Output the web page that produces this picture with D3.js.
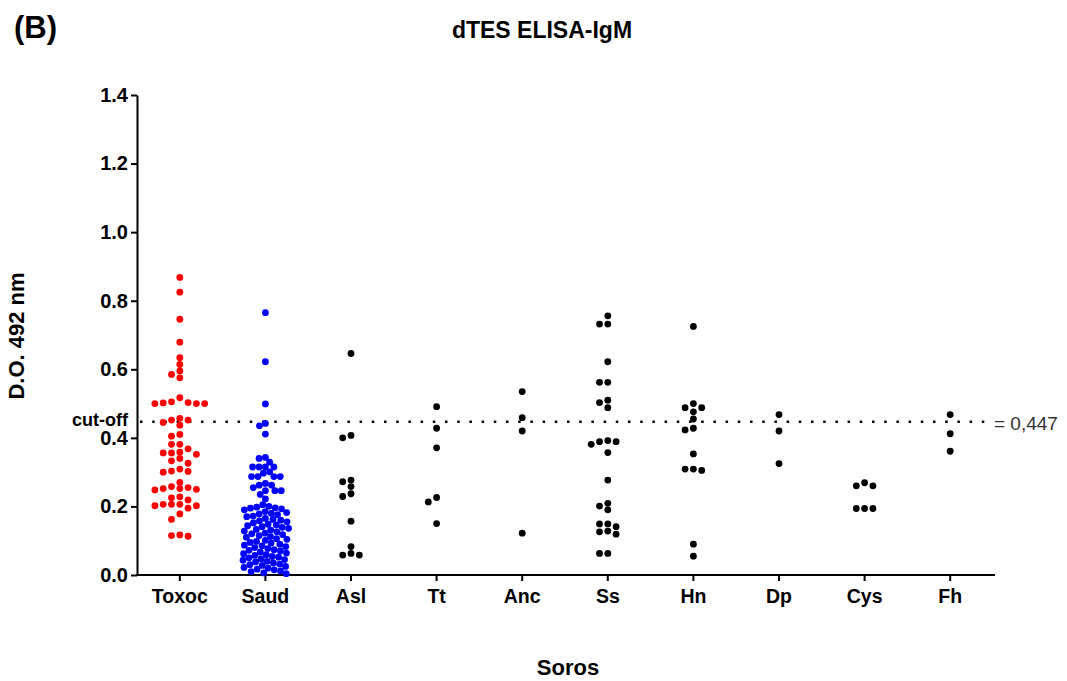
<!DOCTYPE html>
<html>
<head>
<meta charset="utf-8">
<script src="https://cdn.jsdelivr.net/npm/d3@7"></script>
<style>
  body { margin: 0; background: #fff; }
  svg { font-family: Arial, "Liberation Sans", sans-serif; }
</style>
</head>
<body>
<svg width="1067" height="681"></svg>
<script>
// groups (x axis) and colours
var groups = ['Toxoc', 'Saud', 'Asl', 'Tt', 'Anc', 'Ss', 'Hn', 'Dp', 'Cys', 'Fh'];
var colors = ['#ff0000', '#0000ff', '#000', '#000', '#000', '#000', '#000', '#000', '#000', '#000'];
var yTicks = [0, 0.2, 0.4, 0.6, 0.8, 1.0, 1.2, 1.4];
var cutOff = 0.447;

// values (D.O. 492 nm)
var toxoc = [0.868, 0.825, 0.746, 0.679, 0.634, 0.614, 0.595, 0.585, 0.575, 0.517,
  0.505, 0.502, 0.500, 0.500, 0.500, 0.503,
  0.457, 0.452, 0.452, 0.445, 0.437,
  0.410, 0.405, 0.381, 0.381, 0.368,
  0.358, 0.356, 0.356, 0.352, 0.340, 0.333, 0.326, 0.309, 0.302, 0.300, 0.303,
  0.270, 0.255, 0.252, 0.248, 0.250, 0.252, 0.258,
  0.228, 0.225, 0.219, 0.206, 0.206, 0.202, 0.202, 0.206, 0.195, 0.178, 0.162, 0.117, 0.113, 0.115];
var saud = [0.765, 0.622, 0.499, 0.442, 0.435, 0.411,
  0.343, 0.340, 0.329, 0.315, 0.315, 0.315, 0.315, 0.301, 0.297, 0.287, 0.287, 0.287, 0.287,
  0.267, 0.262, 0.262, 0.255, 0.246, 0.246, 0.246, 0.235, 0.222,
  0.205, 0.200, 0.198, 0.196, 0.195, 0.193, 0.190,
  0.185, 0.182, 0.180, 0.178, 0.176, 0.172, 0.170,
  0.165, 0.162, 0.160, 0.158, 0.155, 0.152,
  0.148, 0.146, 0.144, 0.141, 0.139, 0.136,
  0.133, 0.131, 0.128, 0.126, 0.122, 0.120, 0.118,
  0.115, 0.112, 0.110, 0.106, 0.104, 0.101,
  0.098, 0.095, 0.093, 0.090, 0.087, 0.085, 0.083,
  0.080, 0.077, 0.074, 0.072, 0.070, 0.067,
  0.064, 0.062, 0.059, 0.057, 0.054, 0.052, 0.050,
  0.047, 0.045, 0.043, 0.040, 0.038, 0.035,
  0.032, 0.030, 0.028, 0.025, 0.022, 0.020,
  0.017, 0.015, 0.012, 0.010, 0.006, 0.004];
var asl = [0.646, 0.407, 0.400, 0.277, 0.272, 0.258, 0.237, 0.229, 0.157, 0.083, 0.063, 0.058, 0.058];
var tt = [0.491, 0.428, 0.371, 0.226, 0.213, 0.150];
var anc = [0.535, 0.459, 0.420, 0.122];
var ss = [0.756, 0.732, 0.732, 0.622, 0.562, 0.562, 0.510, 0.503, 0.488,
  0.392, 0.381, 0.389, 0.389, 0.357, 0.277, 0.209, 0.201, 0.190,
  0.149, 0.149, 0.141, 0.128, 0.126, 0.119, 0.063, 0.063];
var hn = [0.725, 0.500, 0.488, 0.488, 0.476, 0.455, 0.428, 0.423, 0.353, 0.309, 0.309, 0.305, 0.090, 0.055];
var dp = [0.468, 0.420, 0.325];
var cys = [0.269, 0.260, 0.260, 0.194, 0.194, 0.194];
var fh = [0.468, 0.412, 0.361];

var series = [toxoc, saud, asl, tt, anc, ss, hn, dp, cys, fh];

var svg = d3.select('svg');

var y = d3.scaleLinear().domain([0, 1.4]).range([575, 95]);
var x = d3.scaleBand().domain(groups).range([137, 993]);

var step = 8.3, r = 3.4;

// rows: each point goes into the nearest free slot beside the centre
function slots(vals, sep) {
  var placed = [];
  vals.slice().sort((a, b) => b - a).forEach(function(v) {
    var py = y(v);
    for (var k = 0; k < 40; k++) {
      var slot = k === 0 ? 0 : (k % 2 ? -Math.ceil(k / 2) : k / 2);
      var hit = placed.some(p => p.slot === slot && Math.abs(p.py - py) < sep);
      if (!hit) { placed.push({v: v, py: py, dx: slot * step, slot: slot}); break; }
    }
  });
  return placed;
}

// free beeswarm for the dense group
function swarm(vals, dist) {
  var placed = [];
  vals.slice().sort((a, b) => b - a).forEach(function(v) {
    var py = y(v);
    var near = placed.filter(p => Math.abs(p.py - py) < dist);
    var cands = [0];
    near.forEach(function(p) {
      var w = Math.sqrt(dist * dist - (p.py - py) * (p.py - py));
      cands.push(p.dx - w, p.dx + w);
    });
    cands.sort((a, b) => Math.abs(a) - Math.abs(b));
    var dx = cands.find(c => near.every(p => (p.dx - c) * (p.dx - c) + (p.py - py) * (p.py - py) >= dist * dist - 0.01));
    placed.push({v: v, py: py, dx: dx});
  });
  return placed;
}

//x axis
var xAxis = svg.append('g')
  .attr('transform', 'translate(0,575)')
  .call(d3.axisBottom(x).tickSize(6).tickSizeOuter(0));
xAxis.select('.domain').attr('stroke-width', 2).attr('d', 'M136,0H995');
xAxis.selectAll('.tick line').attr('stroke-width', 2);
xAxis.selectAll('text')
  .attr('y', 14)
  .attr('dy', '0.71em')
  .style('font-size', '19.5px')
  .style('font-weight', 'bold')
  .style('font-family', 'Arial, "Liberation Sans", sans-serif');

//y axis
var yAxis = svg.append('g')
  .attr('transform', 'translate(137,0)')
  .call(d3.axisLeft(y).tickValues(yTicks).tickFormat(d3.format('.1f')).tickSize(6).tickSizeOuter(0));
yAxis.select('.domain').attr('stroke-width', 2);
yAxis.selectAll('.tick line').attr('stroke-width', 2);
yAxis.selectAll('text')
  .style('font-size', '20px')
  .style('font-weight', 'bold')
  .style('font-family', 'Arial, "Liberation Sans", sans-serif');

// cut-off line
svg.append('line')
  .attr('x1', 140).attr('x2', 986)
  .attr('y1', y(cutOff)).attr('y2', y(cutOff))
  .attr('stroke', '#000')
  .attr('stroke-width', 2.5)
  .attr('stroke-dasharray', '2.5,9.7');

svg.append('text')
  .attr('x', 128).attr('y', y(cutOff) + 4)
  .attr('text-anchor', 'end')
  .style('font-size', '18px').style('font-weight', 'bold')
  .text('cut-off');

svg.append('text')
  .attr('x', 994).attr('y', y(cutOff) + 8)
  .style('font-size', '19px').attr('fill', '#333')
  .text('= 0,447');

// dots
series.forEach(function(vals, i) {
  var cx = x(groups[i]) + x.bandwidth() / 2;
  svg.append('g')
    .attr('fill', colors[i])
    .selectAll('circle')
    .data(i === 1 ? swarm(vals, 6.4) : slots(vals, 6))
    .enter()
    .append('circle')
      .attr('cx', d => cx + d.dx)
      .attr('cy', d => d.py)
      .attr('r', r);
});

// titles
svg.append('text')
  .attr('x', 14).attr('y', 38)
  .style('font-size', '31px').style('font-weight', 'bold')
  .text('(B)');

svg.append('text')
  .attr('x', 542).attr('y', 38)
  .attr('text-anchor', 'middle')
  .style('font-size', '23px').style('font-weight', 'bold')
  .text('dTES ELISA-IgM');

svg.append('text')
  .attr('transform', 'translate(24,336) rotate(-90)')
  .attr('text-anchor', 'middle')
  .style('font-size', '22px').style('font-weight', 'bold')
  .text('D.O. 492 nm');

svg.append('text')
  .attr('x', 568).attr('y', 675)
  .attr('text-anchor', 'middle')
  .style('font-size', '22px').style('font-weight', 'bold')
  .text('Soros');
</script>
</body>
</html>
